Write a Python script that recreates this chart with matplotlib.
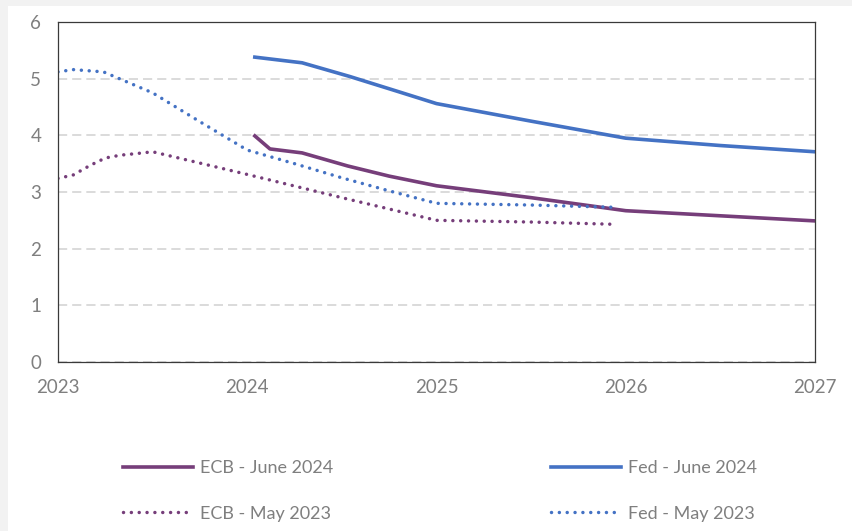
import matplotlib
matplotlib.use("Agg")
import matplotlib.pyplot as plt
from matplotlib.lines import Line2D
from matplotlib.patches import Rectangle

# policy rate paths (%), x in decimal years
ecb_jun24_x = [2024.04, 2024.12, 2024.29, 2024.53, 2024.75, 2025.0, 2025.5, 2026.0, 2026.5, 2027.0]
ecb_jun24_y = [3.99, 3.76, 3.69, 3.46, 3.28, 3.11, 2.90, 2.67, 2.58, 2.49]

fed_jun24_x = [2024.04, 2024.29, 2024.54, 2024.79, 2025.0, 2025.5, 2026.0, 2026.5, 2027.0]
fed_jun24_y = [5.38, 5.28, 5.04, 4.78, 4.56, 4.25, 3.95, 3.82, 3.71]

ecb_may23_x = [2023.0, 2023.08, 2023.17, 2023.25, 2023.33, 2023.42, 2023.5, 2024.0, 2024.5, 2025.0, 2025.5, 2025.94]
ecb_may23_y = [3.24, 3.30, 3.47, 3.60, 3.65, 3.68, 3.71, 3.31, 2.90, 2.50, 2.47, 2.43]

fed_may23_x = [2023.0, 2023.08, 2023.24, 2023.5, 2023.75, 2024.0, 2024.25, 2024.5, 2024.75, 2025.0, 2025.5, 2025.94]
fed_may23_y = [5.12, 5.16, 5.12, 4.75, 4.24, 3.74, 3.50, 3.25, 3.02, 2.80, 2.77, 2.73]

years = [2023, 2024, 2025, 2026, 2027]
yticks = [0, 1, 2, 3, 4, 5, 6]

purple = "#763e7a"
blue = "#4472c4"
grey_txt = "#7f7f7f"
dot_style = (0, (0.01, 2.25))

plt.rcParams["font.family"] = ["Lato", "DejaVu Sans"]

fig = plt.figure(figsize=(8.52, 5.31), dpi=100)
fig.patch.set_facecolor("#f2f2f2")
fig.patches.append(Rectangle((8 / 852, 0), 1, 1 - 6 / 531, transform=fig.transFigure,
                             facecolor="white", edgecolor="none", zorder=-10))

ax = fig.add_axes([58 / 852, (531 - 362) / 531, (815 - 58) / 852, (362 - 22) / 531])
ax.set_facecolor("white")

ax.plot(ecb_jun24_x, ecb_jun24_y, color=purple, lw=2.6, solid_joinstyle="round")
ax.plot(fed_jun24_x, fed_jun24_y, color=blue, lw=2.6, solid_joinstyle="round")
ax.plot(ecb_may23_x, ecb_may23_y, color=purple, lw=2.5, linestyle=dot_style, dash_capstyle="round")
ax.plot(fed_may23_x, fed_may23_y, color=blue, lw=2.5, linestyle=dot_style, dash_capstyle="round")

ax.set_xlim(2023, 2027)
ax.set_ylim(0, 6)
ax.set_xticks(years)
ax.set_yticks(yticks)
ax.set_xticklabels([str(y) for y in years])
ax.tick_params(length=0, labelsize=13.5, labelcolor=grey_txt)
ax.tick_params(axis="y", pad=12)
ax.tick_params(axis="x", pad=12)
ax.yaxis.grid(True, color="#d4d4d4", lw=1.2, linestyle=(0, (5.5, 3)))
ax.set_axisbelow(True)
for s in ax.spines.values():
    s.set_color("#3a3a3a")
    s.set_linewidth(0.9)

h_ecb = [Line2D([], [], color=purple, lw=2.6),
         Line2D([], [], color=purple, lw=2.5, linestyle=dot_style, dash_capstyle="round")]
h_fed = [Line2D([], [], color=blue, lw=2.6),
         Line2D([], [], color=blue, lw=2.5, linestyle=dot_style, dash_capstyle="round")]

leg_kw = dict(frameon=False, fontsize=13, labelcolor=grey_txt, handlelength=3.9,
              handletextpad=0.35, labelspacing=1.65, borderpad=0, borderaxespad=0)
fig.legend(h_ecb, ["ECB - June 2024", "ECB - May 2023"], loc="upper left",
           bbox_to_anchor=(123 / 852, 1 - 460 / 531), **leg_kw)
fig.legend(h_fed, ["Fed - June 2024", "Fed - May 2023"], loc="upper left",
           bbox_to_anchor=(551 / 852, 1 - 460 / 531), **leg_kw)

fig.savefig("out.png", dpi=100, facecolor=fig.get_facecolor())
